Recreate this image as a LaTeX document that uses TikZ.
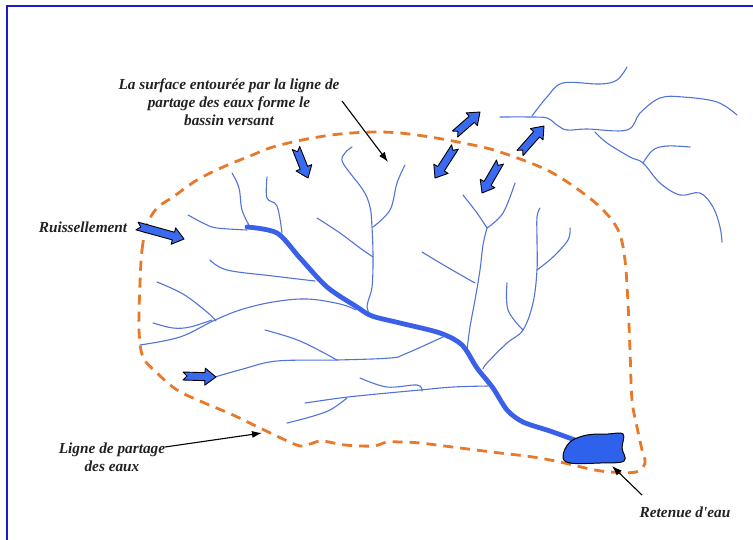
\documentclass[tikz,border=0pt]{standalone}
\usepackage{fontspec}
\setmainfont{Liberation Serif}[Ligatures=TeXOff]
\usetikzlibrary{arrows.meta}

\definecolor{frameblue}{HTML}{1A1AD0}
\definecolor{divide}{HTML}{E8782A}
\definecolor{stream}{HTML}{5274DA}
\definecolor{mainriver}{HTML}{3A60EA}
\definecolor{flowblue}{HTML}{3A6AF0}
\definecolor{lakeblue}{HTML}{2F62EC}
\definecolor{labelink}{HTML}{222222}

\tikzset{
  trib/.style={draw=stream, line width=1.1pt, line cap=round, line join=round},
  trunk/.style={draw=mainriver, line width=4.8pt, line cap=round, line join=round},
  divideline/.style={draw=divide, line width=2.8pt, dash pattern=on 10pt off 7pt},
  lbl/.style={font=\fontsize{15.3}{18}\selectfont\bfseries\itshape, text=labelink,
              align=center, inner sep=0pt},
  pointer/.style={draw=black, line width=1.1pt, -{Latex[length=10pt,width=7pt]}},
  flowfill/.style={fill=flowblue, draw=black, line width=0.9pt, line join=round},
  pics/flowarrow/.style={code={
    \path[flowfill] (0,-4) -- ({#1-11},-4) -- ({#1-11},-8.5) -- (#1,0)
      -- ({#1-11},8.5) -- ({#1-11},4) -- (0,4) -- (4,0) -- cycle;
  }}
}

\begin{document}
\begin{tikzpicture}[x=1pt,y=-1pt]
\useasboundingbox (0,0) rectangle (753,539);
\fill[white] (0,0) rectangle (753,539);
% page frame
\draw[frameblue, line width=2pt] (7,545) -- (7,6) -- (760,6);

% watershed divide
\draw[divideline] plot[smooth cycle, tension=0.55] coordinates {
  (140,283) (142,250) (147,225) (157,208) (173,197) (197,180) (223,167)
  (250,156) (273,147) (307,139) (340,134) (373,132) (400,133) (430,137)
  (463,143) (497,151) (547,170) (583,193) (605,212) (619,232) (625,260)
  (628,303) (630,350) (632,400) (637,427) (642,450) (645,463) (636,472)
  (610,472) (590,469) (560,462) (533,457) (500,453) (460,448) (420,443)
  (400,442) (387,442) (373,446) (345,445) (322,441) (310,444) (300,446)
  (283,439) (260,428) (233,415) (200,401) (177,390) (157,373) (143,357)
  (139,330)};

% tributaries inside the basin
\draw[trib] plot[smooth, tension=0.6] coordinates {(232,173) (239,188) (242,210) (250,227)};
\draw[trib] plot[smooth, tension=0.6] coordinates {(188,215) (205,224) (217,228) (247,230)};
\draw[trib] plot[smooth, tension=0.6] coordinates {(267,177) (267,198) (277,206) (282,233)};
\draw[trib] plot[smooth, tension=0.6] coordinates {(210,260) (227,270) (273,276) (315,281)};
\draw[trib] plot[smooth, tension=0.6] coordinates {(157,282) (183,294) (207,312) (216,321)};
\draw[trib] plot[smooth, tension=0.6] coordinates {(140,345) (180,337) (213,321) (240,310) (273,302) (307,299) (340,304) (356,310)};
\draw[trib] plot[smooth, tension=0.6] coordinates {(153,323) (173,328) (190,327) (212,320)};
\draw[trib] plot[smooth, tension=0.6] coordinates {(265,330) (300,341) (337,360)};
\draw[trib] plot[smooth, tension=0.6] coordinates {(215,377) (243,369) (277,361) (337,360) (390,358) (405,354) (445,336)};
\draw[trib] plot[smooth, tension=0.6] coordinates {(360,378) (387,387) (417,385) (422,391)};
\draw[trib] plot[smooth, tension=0.6] coordinates {(305,403) (340,398) (367,395) (420,390) (453,387) (488,386)};
\draw[trib] plot[smooth, tension=0.6] coordinates {(287,423) (310,417) (330,410) (347,398)};
\draw[trib] plot[smooth, tension=0.6] coordinates {(352,147) (345,153) (343,163) (363,190) (370,207) (372,227) (373,257) (372,287) (367,307) (373,318)};
\draw[trib] plot[smooth, tension=0.6] coordinates {(405,165) (397,183) (390,210) (373,227)};
\draw[trib] plot[smooth, tension=0.6] coordinates {(317,218) (340,233) (360,248) (373,257)};
\draw[trib] plot[smooth, tension=0.6] coordinates {(463,195) (477,213) (487,228)};
\draw[trib] plot[smooth, tension=0.6] coordinates {(515,183) (503,213) (487,228)};
\draw[trib] plot[smooth, tension=0.6] coordinates {(487,228) (483,245) (480,270) (475,300) (470,327) (467,350)};
\draw[trib] plot[smooth, tension=0.6] coordinates {(422,252) (447,267) (475,283)};
\draw[trib] plot[smooth, tension=0.6] coordinates {(540,208) (537,217) (537,240) (537,270) (533,303) (523,330) (507,343) (487,363) (483,369)};
\draw[trib] plot[smooth, tension=0.6] coordinates {(570,228) (568,240) (553,257) (537,270)};
\draw[trib] plot[smooth, tension=0.6] coordinates {(507,283) (508,310) (523,330)};

% streams of the neighbouring basin
\draw[trib] plot[smooth, tension=0.6] coordinates {(500,117) (530,117) (547,118) (557,125) (567,130) (587,129) (627,130) (640,113) (660,98) (683,97) (717,102) (737,115)};
\draw[trib] plot[smooth, tension=0.6] coordinates {(532,116) (547,97) (563,83) (600,84) (617,80) (627,67)};
\draw[trib] plot[smooth, tension=0.6] coordinates {(595,132) (607,143) (630,157) (643,163) (660,183) (680,195) (700,193) (713,207) (720,227) (722,242)};
\draw[trib] plot[smooth, tension=0.6] coordinates {(643,163) (653,150) (667,146) (690,147)};

% main river
\draw[trunk] plot[smooth, tension=0.5] coordinates {
  (247,227) (277,233) (300,258) (327,287) (357,307) (372,316) (400,323)
  (440,333) (462,345) (477,368) (493,388) (507,410) (523,422) (550,431) (575,440)};

% reservoir
\draw[fill=lakeblue, draw=black, line width=1pt] plot[smooth cycle, tension=0.6] coordinates {
  (563,456) (570,442) (587,435) (608,434) (623,434) (622,448) (624,461) (600,463) (570,463)};

% runoff arrows
\pic[rotate=-15.46] at (137,226) {flowarrow=48.8};
\pic[rotate=-1.7] at (183,376) {flowarrow=33};
\pic[rotate=-68.2] at (296,148) {flowarrow=32.3};
\pic[rotate=41.3] at (455,134) {flowarrow=33.3};
\pic[rotate=-122.8] at (455,147) {flowarrow=36.9};
\pic[rotate=48.4] at (520,153) {flowarrow=36.1};
\pic[rotate=-120.1] at (500,162) {flowarrow=35.8};

% labels
\node[lbl] (surf) at (229,102) {La surface entourée par la ligne de\\partage des eaux forme le\\bassin versant};
\node[lbl] (ruis) at (83,227) {Ruissellement};
\node[lbl] (lig) at (112,457) {Ligne de partage\\des eaux};
\node[lbl] (ret) at (685,512) {Retenue d'eau};

% label pointers
\coordinate (surfstart) at (342,101);
\coordinate (basin) at (388,162);
\coordinate (ligstart) at (165,447);
\coordinate (divpt) at (262,433);
\coordinate (retstart) at (642,495);
\coordinate (lake) at (612,466);
\draw[pointer] (surfstart) -- (basin);
\draw[pointer] (ligstart) -- (divpt);
\draw[pointer] (retstart) -- (lake);
\end{tikzpicture}
\end{document}
